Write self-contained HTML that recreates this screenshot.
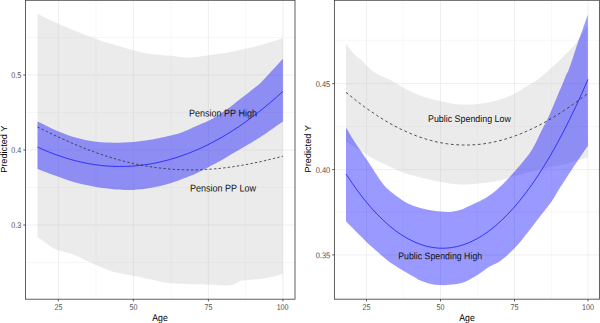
<!DOCTYPE html>
<html><head><meta charset="utf-8"><title>Predicted Y by Age</title>
<style>
html,body{margin:0;padding:0;background:#fff;}
body{width:600px;height:323px;overflow:hidden;position:relative;font-family:"Liberation Sans",sans-serif;}
</style></head><body>
<svg width="600" height="323" viewBox="0 0 600 323" style="position:absolute;left:0;top:0;font-family:'Liberation Sans',sans-serif">
<rect x="0" y="0" width="600" height="323" fill="#fff"/>
<clipPath id="cl"><rect x="25.5" y="0.3" width="269.5" height="298.9"/></clipPath>
<g clip-path="url(#cl)">
<line x1="96.0" x2="96.0" y1="0.3" y2="299.2" stroke="#ebebeb" stroke-width="0.4"/>
<line x1="171.3" x2="171.3" y1="0.3" y2="299.2" stroke="#ebebeb" stroke-width="0.4"/>
<line x1="245.6" x2="245.6" y1="0.3" y2="299.2" stroke="#ebebeb" stroke-width="0.4"/>
<line x1="25.5" x2="295.0" y1="37.5" y2="37.5" stroke="#ebebeb" stroke-width="0.4"/>
<line x1="25.5" x2="295.0" y1="112.5" y2="112.5" stroke="#ebebeb" stroke-width="0.4"/>
<line x1="25.5" x2="295.0" y1="187.5" y2="187.5" stroke="#ebebeb" stroke-width="0.4"/>
<line x1="25.5" x2="295.0" y1="262.5" y2="262.5" stroke="#ebebeb" stroke-width="0.4"/>
<line x1="58.4" x2="58.4" y1="0.3" y2="299.2" stroke="#ebebeb" stroke-width="0.8"/>
<line x1="133.4" x2="133.4" y1="0.3" y2="299.2" stroke="#ebebeb" stroke-width="0.8"/>
<line x1="208.4" x2="208.4" y1="0.3" y2="299.2" stroke="#ebebeb" stroke-width="0.8"/>
<line x1="282.9" x2="282.9" y1="0.3" y2="299.2" stroke="#ebebeb" stroke-width="0.8"/>
<line x1="25.5" x2="295.0" y1="75.0" y2="75.0" stroke="#ebebeb" stroke-width="0.8"/>
<line x1="25.5" x2="295.0" y1="150.0" y2="150.0" stroke="#ebebeb" stroke-width="0.8"/>
<line x1="25.5" x2="295.0" y1="225.0" y2="225.0" stroke="#ebebeb" stroke-width="0.8"/>
<path d="M37.5 13.8 C41.0 15.5 48.6 19.6 58.4 23.8 C68.2 28.0 83.5 34.5 96.0 38.9 C108.5 43.3 124.4 47.7 133.4 50.2 C142.4 52.7 143.7 53.0 150.0 53.9 C156.3 54.8 165.0 55.1 171.3 55.7 C177.6 56.3 182.8 57.6 187.6 57.7 C192.4 57.8 195.3 57.1 200.0 56.5 C204.7 55.9 210.3 55.0 215.5 54.2 C220.7 53.5 225.8 52.9 231.0 52.0 C236.2 51.1 241.2 49.8 246.4 48.6 C251.6 47.4 257.2 46.0 261.9 44.8 C266.5 43.5 270.8 42.2 274.3 41.1 C277.8 40.0 281.5 38.5 282.9 38.0 L282.9 273.9 C279.9 274.6 271.2 277.1 265.0 278.2 C258.8 279.2 249.8 279.7 245.6 280.2 C241.4 280.7 242.6 280.2 240.0 281.0 C237.4 281.8 235.3 284.6 230.0 285.2 C224.7 285.8 214.9 284.8 208.4 284.7 C201.9 284.6 197.4 284.5 191.2 284.3 C185.0 284.1 177.8 284.1 171.1 283.3 C164.4 282.5 157.3 280.7 151.0 279.4 C144.7 278.1 138.5 276.7 133.3 275.7 C128.1 274.7 123.8 274.1 120.0 273.3 C116.2 272.5 114.5 272.4 110.5 271.0 C106.5 269.6 101.7 267.6 96.0 265.1 C90.3 262.6 81.0 257.8 76.4 255.8 C71.9 253.8 71.7 253.8 68.7 252.9 C65.7 252.0 61.1 251.2 58.5 250.4 C55.9 249.6 55.4 249.4 53.2 248.1 C51.0 246.8 48.1 244.3 45.5 242.5 C42.9 240.7 38.8 237.9 37.5 237.0 Z" fill="rgba(190,190,190,0.3)"/>
<path d="M37.5 121.6 C41.0 123.2 51.9 128.8 58.4 131.5 C64.9 134.2 70.1 136.0 76.4 137.7 C82.7 139.4 89.8 141.0 96.0 141.8 C102.2 142.6 107.4 142.7 113.6 142.7 C119.8 142.7 127.1 142.5 133.2 142.0 C139.3 141.5 143.8 140.9 150.2 139.8 C156.6 138.7 166.9 136.3 171.9 135.2 C176.9 134.1 176.9 134.1 180.0 133.0 C183.1 131.9 186.8 130.3 190.5 128.7 C194.2 127.1 198.8 125.1 202.0 123.6 C205.2 122.1 207.5 121.2 210.0 119.9 C212.5 118.6 214.0 117.9 217.0 116.0 C220.0 114.1 224.8 110.9 228.0 108.6 C231.2 106.3 233.1 104.6 236.0 102.3 C238.9 100.0 242.9 97.0 245.5 95.0 C248.1 93.0 248.7 92.5 251.4 90.3 C254.1 88.0 256.6 86.8 261.9 81.5 C267.1 76.2 279.4 62.5 282.9 58.7 L282.9 121.5 C279.4 123.9 268.0 132.1 261.9 136.1 C255.8 140.1 251.6 142.5 246.4 145.6 C241.2 148.7 236.2 151.4 231.0 154.4 C225.8 157.4 220.7 160.7 215.5 163.5 C210.3 166.3 204.2 169.3 200.0 171.4 C195.8 173.5 195.3 173.9 190.5 175.8 C185.7 177.7 178.1 180.9 171.3 183.0 C164.6 185.1 156.3 186.9 150.0 188.1 C143.7 189.2 137.6 189.6 133.4 189.9 C129.2 190.2 128.3 190.0 125.0 189.9 C121.7 189.8 118.4 189.7 113.6 189.2 C108.8 188.7 102.2 188.1 96.0 187.0 C89.8 185.9 82.7 184.5 76.4 182.8 C70.1 181.1 64.9 179.1 58.4 176.8 C51.9 174.5 41.0 170.3 37.5 169.0 Z" fill="rgba(0,0,255,0.40)"/>
<path d="M37.5 147.0 L43.8 149.8 L50.1 152.5 L56.4 154.9 L62.7 157.0 L69.0 159.0 L75.3 160.7 L81.5 162.2 L87.8 163.5 L94.1 164.5 L100.4 165.4 L106.7 166.0 L113.0 166.3 L119.3 166.5 L125.6 166.4 L131.9 166.1 L138.2 165.6 L144.5 164.8 L150.8 163.9 L157.1 162.7 L163.3 161.2 L169.6 159.6 L175.9 157.7 L182.2 155.6 L188.5 153.3 L194.8 150.7 L201.1 148.0 L207.4 145.0 L213.7 141.7 L220.0 138.3 L226.3 134.6 L232.6 130.7 L238.9 126.6 L245.1 122.2 L251.4 117.6 L257.7 112.8 L264.0 107.8 L270.3 102.5 L276.6 97.1 L282.9 91.4" fill="none" stroke="#2222ff" stroke-width="0.85"/>
<path d="M37.5 126.9 L40.6 128.5 L43.7 130.0 L46.8 131.5 L49.9 133.0 L53.0 134.5 L56.1 136.0 L59.2 137.4 L62.4 138.8 L65.5 140.2 L68.6 141.6 L71.7 143.0 L74.8 144.3 L77.9 145.6 L81.0 146.9 L84.1 148.1 L87.2 149.3 L90.3 150.5 L93.4 151.6 L96.5 152.8 L99.6 153.9 L102.7 154.9 L105.8 155.9 L108.9 156.9 L112.1 157.9 L115.2 158.8 L118.3 159.7 L121.4 160.5 L124.5 161.4 L127.6 162.1 L130.7 162.9 L133.8 163.6 L136.9 164.3 L140.0 164.9 L143.1 165.5 L146.2 166.1 L149.3 166.6 L152.4 167.1 L155.5 167.5 L158.6 167.9 L161.8 168.3 L164.9 168.6 L168.0 168.9 L171.1 169.2 L174.2 169.4 L177.3 169.6 L180.4 169.7 L183.5 169.8 L186.6 169.9 L189.7 169.9 L192.8 169.9 L195.9 169.9 L199.0 169.8 L202.1 169.7 L205.2 169.5 L208.3 169.3 L211.5 169.1 L214.6 168.9 L217.7 168.6 L220.8 168.3 L223.9 167.9 L227.0 167.5 L230.1 167.1 L233.2 166.7 L236.3 166.2 L239.4 165.7 L242.5 165.2 L245.6 164.6 L248.7 164.1 L251.8 163.4 L254.9 162.8 L258.0 162.2 L261.2 161.5 L264.3 160.8 L267.4 160.0 L270.5 159.3 L273.6 158.5 L276.7 157.8 L279.8 157.0 L282.9 156.2" fill="none" stroke="#333" stroke-width="0.85" stroke-dasharray="2.4 2.2"/>
</g>
<rect x="25.5" y="0.3" width="269.5" height="298.9" fill="none" stroke="#444" stroke-width="0.85"/>
<clipPath id="cr"><rect x="334.4" y="0.3" width="265.0" height="298.9"/></clipPath>
<g clip-path="url(#cr)">
<line x1="403.3" x2="403.3" y1="0.3" y2="299.2" stroke="#ebebeb" stroke-width="0.4"/>
<line x1="477.6" x2="477.6" y1="0.3" y2="299.2" stroke="#ebebeb" stroke-width="0.4"/>
<line x1="551.6" x2="551.6" y1="0.3" y2="299.2" stroke="#ebebeb" stroke-width="0.4"/>
<line x1="334.4" x2="599.4" y1="40.3" y2="40.3" stroke="#ebebeb" stroke-width="0.4"/>
<line x1="334.4" x2="599.4" y1="126.5" y2="126.5" stroke="#ebebeb" stroke-width="0.4"/>
<line x1="334.4" x2="599.4" y1="212.0" y2="212.0" stroke="#ebebeb" stroke-width="0.4"/>
<line x1="334.4" x2="599.4" y1="298.0" y2="298.0" stroke="#ebebeb" stroke-width="0.4"/>
<line x1="366.5" x2="366.5" y1="0.3" y2="299.2" stroke="#ebebeb" stroke-width="0.8"/>
<line x1="440.5" x2="440.5" y1="0.3" y2="299.2" stroke="#ebebeb" stroke-width="0.8"/>
<line x1="514.5" x2="514.5" y1="0.3" y2="299.2" stroke="#ebebeb" stroke-width="0.8"/>
<line x1="588.0" x2="588.0" y1="0.3" y2="299.2" stroke="#ebebeb" stroke-width="0.8"/>
<line x1="334.4" x2="599.4" y1="83.6" y2="83.6" stroke="#ebebeb" stroke-width="0.8"/>
<line x1="334.4" x2="599.4" y1="169.6" y2="169.6" stroke="#ebebeb" stroke-width="0.8"/>
<line x1="334.4" x2="599.4" y1="254.9" y2="254.9" stroke="#ebebeb" stroke-width="0.8"/>
<path d="M346.0 44.0 C347.5 45.8 352.2 52.0 354.9 54.8 C357.6 57.6 360.3 59.1 362.3 61.0 C364.3 62.9 364.2 63.7 366.7 65.9 C369.2 68.1 373.3 71.8 377.1 74.1 C380.9 76.4 385.1 77.2 389.5 79.5 C393.9 81.8 398.3 85.0 403.4 87.7 C408.5 90.4 413.8 93.2 420.0 95.5 C426.2 97.8 433.8 99.7 440.5 101.2 C447.2 102.7 453.4 104.0 460.0 104.4 C466.6 104.8 473.3 104.5 480.0 103.7 C486.7 102.9 494.2 101.2 500.0 99.5 C505.8 97.8 510.8 95.5 514.9 93.5 C519.0 91.5 521.1 89.6 524.8 87.3 C528.5 85.0 533.1 82.8 537.1 79.9 C541.1 77.0 544.8 73.8 549.0 70.0 C553.2 66.2 558.5 61.3 562.5 57.4 C566.5 53.5 570.5 49.9 573.3 46.6 C576.1 43.4 576.9 41.5 579.4 37.9 C581.9 34.3 586.6 27.1 588.0 25.0 L588.0 157.3 C586.6 157.7 583.2 158.7 579.9 159.7 C576.5 160.7 572.7 162.2 567.9 163.4 C563.1 164.6 555.8 166.0 551.1 167.0 C546.5 168.0 545.3 168.2 540.0 169.5 C534.7 170.8 524.5 173.4 519.4 174.8 C514.3 176.2 513.2 176.7 509.5 177.7 C505.8 178.7 502.4 179.9 497.1 180.9 C491.8 181.9 484.0 182.8 477.8 183.4 C471.6 184.0 466.2 184.6 460.0 184.4 C453.8 184.2 445.7 182.8 440.6 182.0 C435.5 181.2 433.4 180.5 429.5 179.6 C425.6 178.7 421.5 177.7 417.1 176.5 C412.8 175.3 408.0 174.3 403.4 172.6 C398.8 170.9 393.9 168.4 389.5 166.4 C385.1 164.4 381.6 163.1 377.1 160.7 C372.6 158.3 367.5 155.2 362.3 152.0 C357.1 148.8 348.7 143.2 346.0 141.5 Z" fill="rgba(190,190,190,0.3)"/>
<path d="M346.0 127.4 C347.5 129.9 351.4 136.8 354.9 142.2 C358.3 147.5 363.0 153.9 366.7 159.5 C370.4 165.1 374.4 171.5 377.1 175.6 C379.8 179.7 380.9 181.4 383.0 184.0 C385.1 186.6 386.5 188.2 389.9 191.0 C393.3 193.8 399.0 198.2 403.5 200.9 C408.0 203.6 412.8 205.6 417.1 207.1 C421.4 208.6 425.6 209.3 429.5 210.1 C433.4 210.8 437.2 211.3 440.6 211.6 C444.0 211.9 446.8 212.2 450.0 211.9 C453.2 211.7 456.7 211.1 460.0 210.1 C463.3 209.1 466.9 207.0 469.9 205.7 C472.9 204.3 474.9 203.4 477.8 202.0 C480.7 200.6 484.0 199.1 487.2 197.0 C490.4 194.9 493.4 192.9 497.1 189.6 C500.8 186.3 505.8 181.1 509.5 177.2 C513.2 173.3 515.7 170.6 519.4 166.1 C523.1 161.6 528.0 156.0 531.8 150.0 C535.5 144.0 539.2 135.3 541.9 130.0 C544.6 124.7 546.3 121.6 547.9 118.3 C549.5 115.0 550.0 113.5 551.6 109.9 C553.2 106.3 555.5 100.5 557.2 96.5 C558.9 92.5 560.4 89.1 561.8 85.8 C563.2 82.5 564.3 79.3 565.5 76.5 C566.7 73.7 567.7 72.3 569.0 69.0 C570.3 65.7 571.7 61.2 573.3 56.4 C574.9 51.6 577.2 44.8 578.8 40.1 C580.4 35.4 581.6 32.4 583.1 28.2 C584.6 24.0 587.0 16.9 587.8 14.7 L587.9 145.8 C586.1 148.4 580.5 156.7 577.2 161.6 C573.9 166.5 571.0 170.8 567.9 175.5 C564.8 180.2 561.3 185.8 558.6 190.0 C555.9 194.2 555.1 196.5 551.9 201.0 C548.7 205.5 543.6 211.7 539.5 217.1 C535.4 222.5 531.2 228.0 527.1 233.2 C523.0 238.4 519.1 243.5 514.8 248.1 C510.4 252.7 505.2 257.4 501.0 260.5 C496.8 263.6 493.1 264.4 489.3 266.7 C485.5 269.0 482.3 272.0 478.2 274.5 C474.1 277.0 468.9 280.2 464.6 281.9 C460.3 283.6 456.2 284.0 452.2 284.5 C448.2 285.0 444.2 285.2 440.5 285.1 C436.8 285.0 433.3 284.5 429.9 283.7 C426.5 282.9 422.6 281.4 420.0 280.3 C417.4 279.2 417.1 278.5 414.3 276.9 C411.5 275.3 407.4 273.2 403.3 270.7 C399.2 268.2 393.9 265.2 389.5 262.0 C385.1 258.8 381.0 254.9 377.2 251.6 C373.4 248.3 370.6 246.0 366.5 242.0 C362.4 238.0 355.8 231.3 352.4 227.8 C349.0 224.3 347.1 222.3 346.0 221.2 Z" fill="rgba(0,0,255,0.40)"/>
<path d="M346.0 174.0 L352.2 183.2 L358.4 191.9 L364.6 199.9 L370.8 207.3 L377.0 214.1 L383.2 220.2 L389.4 225.8 L395.6 230.8 L401.8 235.1 L408.1 238.8 L414.3 241.9 L420.5 244.4 L426.7 246.3 L432.9 247.5 L439.1 248.2 L445.3 248.2 L451.5 247.6 L457.7 246.4 L463.9 244.6 L470.1 242.2 L476.3 239.1 L482.5 235.5 L488.7 231.2 L494.9 226.3 L501.1 220.8 L507.3 214.7 L513.5 208.0 L519.7 200.7 L525.9 192.7 L532.2 184.2 L538.4 175.0 L544.6 165.2 L550.8 154.8 L557.0 143.7 L563.2 132.1 L569.4 119.8 L575.6 107.0 L581.8 93.5 L588.0 79.4" fill="none" stroke="#2222ff" stroke-width="0.85"/>
<path d="M346.0 92.3 L349.1 94.8 L352.1 97.3 L355.2 99.8 L358.3 102.2 L361.3 104.5 L364.4 106.8 L367.4 109.0 L370.5 111.1 L373.6 113.2 L376.6 115.3 L379.7 117.3 L382.8 119.2 L385.8 121.0 L388.9 122.8 L391.9 124.5 L395.0 126.2 L398.1 127.8 L401.1 129.3 L404.2 130.7 L407.3 132.1 L410.3 133.4 L413.4 134.7 L416.5 135.9 L419.5 137.0 L422.6 138.0 L425.6 139.0 L428.7 139.9 L431.8 140.7 L434.8 141.5 L437.9 142.2 L441.0 142.8 L444.0 143.3 L447.1 143.8 L450.2 144.2 L453.2 144.5 L456.3 144.7 L459.3 144.9 L462.4 145.0 L465.5 145.1 L468.5 145.0 L471.6 144.9 L474.7 144.7 L477.7 144.5 L480.8 144.2 L483.8 143.8 L486.9 143.3 L490.0 142.8 L493.0 142.2 L496.1 141.5 L499.2 140.8 L502.2 140.0 L505.3 139.1 L508.4 138.2 L511.4 137.2 L514.5 136.1 L517.5 135.0 L520.6 133.8 L523.7 132.5 L526.7 131.2 L529.8 129.8 L532.9 128.4 L535.9 126.9 L539.0 125.3 L542.1 123.7 L545.1 122.0 L548.2 120.3 L551.2 118.5 L554.3 116.7 L557.4 114.8 L560.4 112.9 L563.5 110.9 L566.6 108.8 L569.6 106.8 L572.7 104.6 L575.7 102.5 L578.8 100.2 L581.9 98.0 L584.9 95.7 L588.0 93.4" fill="none" stroke="#333" stroke-width="0.85" stroke-dasharray="2.8 2.6"/>
</g>
<rect x="334.4" y="0.3" width="265.0" height="298.9" fill="none" stroke="#444" stroke-width="0.85"/>
<line x1="58.4" x2="58.4" y1="299.2" y2="301.4" stroke="#333" stroke-width="0.8"/>
<line x1="133.4" x2="133.4" y1="299.2" y2="301.4" stroke="#333" stroke-width="0.8"/>
<line x1="208.4" x2="208.4" y1="299.2" y2="301.4" stroke="#333" stroke-width="0.8"/>
<line x1="282.9" x2="282.9" y1="299.2" y2="301.4" stroke="#333" stroke-width="0.8"/>
<line x1="366.5" x2="366.5" y1="299.2" y2="301.4" stroke="#333" stroke-width="0.8"/>
<line x1="440.5" x2="440.5" y1="299.2" y2="301.4" stroke="#333" stroke-width="0.8"/>
<line x1="514.5" x2="514.5" y1="299.2" y2="301.4" stroke="#333" stroke-width="0.8"/>
<line x1="588.0" x2="588.0" y1="299.2" y2="301.4" stroke="#333" stroke-width="0.8"/>
<line x1="23.3" x2="25.5" y1="75.0" y2="75.0" stroke="#333" stroke-width="0.8"/>
<line x1="23.3" x2="25.5" y1="150.0" y2="150.0" stroke="#333" stroke-width="0.8"/>
<line x1="23.3" x2="25.5" y1="225.0" y2="225.0" stroke="#333" stroke-width="0.8"/>
<line x1="332.2" x2="334.4" y1="83.6" y2="83.6" stroke="#333" stroke-width="0.8"/>
<line x1="332.2" x2="334.4" y1="169.6" y2="169.6" stroke="#333" stroke-width="0.8"/>
<line x1="332.2" x2="334.4" y1="254.9" y2="254.9" stroke="#333" stroke-width="0.8"/>
<text transform="translate(58.40 309.70) rotate(0.03) scale(0.860 1)" text-anchor="middle" font-size="8.30" fill="#4d4d4d" >25</text>
<text transform="translate(133.40 309.70) rotate(0.03) scale(0.860 1)" text-anchor="middle" font-size="8.30" fill="#4d4d4d" >50</text>
<text transform="translate(208.40 309.70) rotate(0.03) scale(0.860 1)" text-anchor="middle" font-size="8.30" fill="#4d4d4d" >75</text>
<text transform="translate(282.60 309.70) rotate(0.03) scale(0.860 1)" text-anchor="middle" font-size="8.30" fill="#4d4d4d" >100</text>
<text transform="translate(366.50 309.70) rotate(0.03) scale(0.860 1)" text-anchor="middle" font-size="8.30" fill="#4d4d4d" >25</text>
<text transform="translate(440.50 309.70) rotate(0.03) scale(0.860 1)" text-anchor="middle" font-size="8.30" fill="#4d4d4d" >50</text>
<text transform="translate(514.50 309.70) rotate(0.03) scale(0.860 1)" text-anchor="middle" font-size="8.30" fill="#4d4d4d" >75</text>
<text transform="translate(588.00 309.70) rotate(0.03) scale(0.860 1)" text-anchor="middle" font-size="8.30" fill="#4d4d4d" >100</text>
<text transform="translate(21.30 78.40) rotate(0.03) scale(0.860 1)" text-anchor="end" font-size="8.30" fill="#4d4d4d" >0.5</text>
<text transform="translate(21.30 153.40) rotate(0.03) scale(0.860 1)" text-anchor="end" font-size="8.30" fill="#4d4d4d" >0.4</text>
<text transform="translate(21.30 228.40) rotate(0.03) scale(0.860 1)" text-anchor="end" font-size="8.30" fill="#4d4d4d" >0.3</text>
<text transform="translate(330.20 86.90) rotate(0.03) scale(0.900 1)" text-anchor="end" font-size="8.30" fill="#4d4d4d" >0.45</text>
<text transform="translate(330.20 172.90) rotate(0.03) scale(0.900 1)" text-anchor="end" font-size="8.30" fill="#4d4d4d" >0.40</text>
<text transform="translate(330.20 258.20) rotate(0.03) scale(0.900 1)" text-anchor="end" font-size="8.30" fill="#4d4d4d" >0.35</text>
<text transform="translate(160.00 321.00) rotate(0.03) scale(0.890 1)" text-anchor="middle" font-size="9.80" fill="#000" >Age</text>
<text transform="translate(467.00 321.00) rotate(0.03) scale(0.890 1)" text-anchor="middle" font-size="9.80" fill="#000" >Age</text>
<text transform="translate(7.40 149.20) rotate(-90) scale(1.020 1)" text-anchor="middle" font-size="9.00" fill="#000" >Predicted Y</text>
<text transform="translate(311.30 148.80) rotate(-90) scale(1.020 1)" text-anchor="middle" font-size="9.00" fill="#000" >Predicted Y</text>
<text transform="translate(223.00 116.40) rotate(0.03) scale(0.923 1)" text-anchor="middle" font-size="9.80" fill="#111" >Pension PP High</text>
<text transform="translate(223.00 191.50) rotate(0.03) scale(0.923 1)" text-anchor="middle" font-size="9.80" fill="#111" >Pension PP Low</text>
<text transform="translate(469.40 122.00) rotate(0.03) scale(0.915 1)" text-anchor="middle" font-size="9.70" fill="#111" >Public Spending Low</text>
<text transform="translate(440.20 259.30) rotate(0.03) scale(0.905 1)" text-anchor="middle" font-size="9.70" fill="#111" >Public Spending High</text>
</svg>
</body></html>
